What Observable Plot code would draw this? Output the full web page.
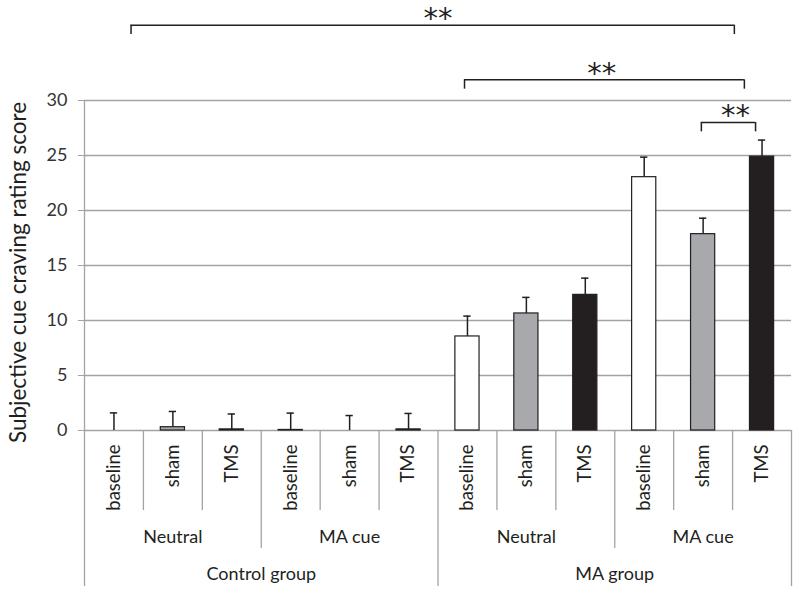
<!DOCTYPE html>
<html>
<head>
<meta charset="utf-8">
<script src="https://cdn.jsdelivr.net/npm/d3@7"></script>
<script src="https://cdn.jsdelivr.net/npm/@observablehq/plot@0.6"></script>
<style>
  html, body { margin: 0; padding: 0; background: #fff; }
  #chart svg { display: block; }
</style>
</head>
<body>
<div id="chart"></div>
<script>
// ---- data ----
const groups = ["Control group", "MA group"];
const cues = ["Neutral", "MA cue"];
const conditions = ["baseline", "sham", "TMS"];
const controlMeans = [0, 0.3, 0.1, 0.05, 0, 0.1];
const controlSem   = [1.6, 1.43, 1.4, 1.53, 1.36, 1.45];
const maMeans      = [8.55, 10.64, 12.33, 23.03, 17.85, 24.9];
const maSem        = [1.85, 1.46, 1.52, 1.82, 1.45, 1.5];
const yTicks = [0, 5, 10, 15, 20, 25, 30];
const yLabel = "Subjective cue craving rating score";
// significance brackets: [from column, to column, level] (column units, score units)
const bracketFrom  = [0.79, 6.45, 10.47];
const bracketTo    = [11.03, 11.2, 11.39];
const bracketLevel = [36.85, 31.88, 28.0];
const bracketStars = ["**", "**", "**"];
const starPos      = [6.0, 8.78, 11.05];

// ---- build table ----
const colors = {baseline: "#ffffff", sham: "#a7a9ac", TMS: "#231f20"};
const bars = [];
groups.forEach((g, gi) => {
  const means = gi === 0 ? controlMeans : maMeans;
  const sems = gi === 0 ? controlSem : maSem;
  cues.forEach((c, ci) => {
    conditions.forEach((cond, k) => {
      const j = ci * 3 + k;
      const idx = gi * 6 + j;
      bars.push({group: g, cue: c, cond, col: idx + 0.5, mean: means[j], top: means[j] + sems[j]});
    });
  });
});
const cueLabels = [];
groups.forEach((g, gi) => cues.forEach((c, ci) => cueLabels.push({label: c, col: gi * 6 + ci * 3 + 1.5})));
const groupLabels = groups.map((g, gi) => ({label: g, col: gi * 6 + 3}));
const brackets = bracketFrom.map((f, i) => ({from: f, to: bracketTo[i], level: bracketLevel[i], drop: bracketLevel[i] - 0.85, star: bracketStars[i], sx: starPos[i]}));

const half = 0.205;   // half bar width in column units
const cap = 0.062;    // half cap width
const nCols = 12;
const yBottom = -14.18, yMid = -10.73, ySmall = -7.27;
const smallDiv = [1, 2, 4, 5, 7, 8, 10, 11];
const midDiv = [3, 9];
const gridCol = "#a3a3a3";
const ink = "#231f20";

const chart = Plot.plot({
  width: 800,
  height: 595,
  marginLeft: 84,
  marginRight: 9,
  marginTop: 100,
  marginBottom: 165,
  style: {fontFamily: "Lato, 'Open Sans', sans-serif", fontSize: "18px", color: ink, background: "#fff"},
  x: {type: "linear", domain: [0, nCols], axis: null},
  y: {domain: [0, 30], axis: null},
  marks: [
    // gridlines
    Plot.ruleY(yTicks.filter(d => d > 0), {y: d => d, x1: 0, x2: nCols, stroke: gridCol, strokeWidth: 1.3}),
    // y axis
    Plot.axisY({ticks: yTicks, tickSize: 6, tickPadding: 11, stroke: gridCol, fill: "#333", label: null, fontSize: 18}),
    Plot.ruleX([0], {y1: yBottom, y2: 30, stroke: gridCol, strokeWidth: 1.3}),
    // baseline
    Plot.ruleY([0], {x1: 0, x2: nCols, stroke: gridCol, strokeWidth: 1.3}),
    // category dividers
    Plot.ruleX(smallDiv, {x: d => d, y1: 0, y2: ySmall, stroke: gridCol, strokeWidth: 1.3}),
    Plot.ruleX(midDiv, {x: d => d, y1: 0, y2: yMid, stroke: gridCol, strokeWidth: 1.3}),
    Plot.ruleX([6, nCols], {x: d => d, y1: 0, y2: yBottom, stroke: gridCol, strokeWidth: 1.3}),
    // error bars
    Plot.ruleX(bars, {x: "col", y1: "mean", y2: "top", stroke: ink, strokeWidth: 1.5}),
    Plot.ruleY(bars, {y: "top", x1: d => d.col - cap, x2: d => d.col + cap, stroke: ink, strokeWidth: 1.5}),
    // bars
    Plot.rectY(bars, {x1: d => d.col - half, x2: d => d.col + half, y1: 0, y2: "mean", fill: d => colors[d.cond], stroke: ink, strokeWidth: 1.2}),
    // category labels
    Plot.text(bars, {x: "col", y: -1.27, text: "cond", rotate: -90, textAnchor: "end", lineAnchor: "middle", fontSize: 18.5, fill: ink}),
    Plot.text(cueLabels, {x: "col", y: -9.7, text: "label", fontSize: 18, fill: ink}),
    Plot.text(groupLabels, {x: "col", y: -13.09, text: "label", fontSize: 18, fill: ink}),
    // y title
    Plot.text([yLabel], {frameAnchor: "left", dx: -66, dy: 7, rotate: -90, textAnchor: "middle", lineAnchor: "middle", text: d => d, fontSize: 22.5, fill: ink}),
    // significance brackets
    Plot.ruleY(brackets, {y: "level", x1: "from", x2: "to", stroke: ink, strokeWidth: 1.5}),
    Plot.ruleX(brackets, {x: "from", y1: "level", y2: "drop", stroke: ink, strokeWidth: 1.5}),
    Plot.ruleX(brackets, {x: "to", y1: "level", y2: "drop", stroke: ink, strokeWidth: 1.5}),
    Plot.text(brackets, {x: "sx", y: d => d.level + 0.6, text: "star", fontSize: 29, fill: ink, fontFamily: "DejaVu Sans", lineAnchor: "middle", letterSpacing: 5})
  ]
});
document.getElementById("chart").appendChild(chart);
</script>
</body>
</html>
